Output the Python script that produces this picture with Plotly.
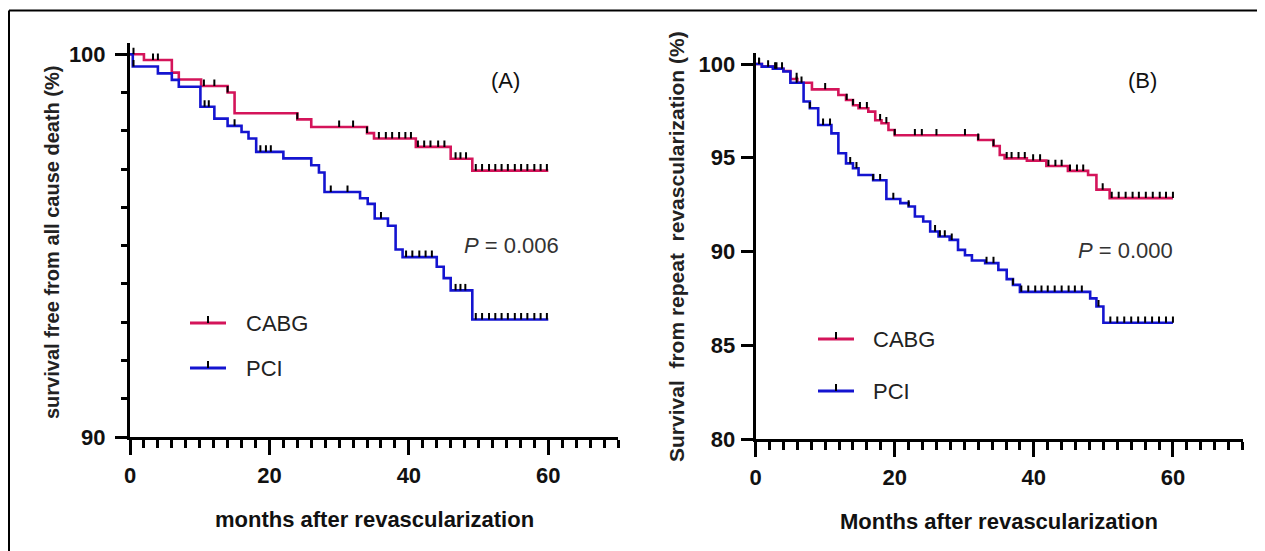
import numpy as np
import plotly.graph_objects as go

# ---------------- data ----------------
# Panel A: survival free from all cause death (%)
a_cabg_t = [0, 2, 6, 7, 10.2, 14, 15, 24, 26, 34, 35, 41, 46, 49.1, 60]
a_cabg_s = [100, 99.85, 99.52, 99.34, 99.17, 99.0, 98.46, 98.3, 98.1, 97.94, 97.8, 97.58, 97.27, 96.96, 96.96]
a_cabg_cens = [0.5, 3.3, 4.0, 10.6, 12.1, 14.0, 24.0, 30.0, 32.0, 34.0, 35.7, 36.7, 37.6, 38.6, 39.5, 40.3,
               41.3, 42.2, 43.1, 44.2, 45.1, 46.7, 47.4, 48.2,
               49.6, 50.5, 51.5, 52.4, 53.3, 54.2, 55.2, 56.1, 57.0, 58.0, 58.9, 59.8]

a_pci_t = [0, 0.4, 4, 6, 7, 10.1, 12.1, 14, 16, 17, 18.1, 22, 26, 27.1, 27.9, 33, 34.1, 35.1, 37, 38.1, 39.1,
           44, 45, 46, 49.1, 60]
a_pci_s = [100, 99.68, 99.5, 99.33, 99.15, 98.63, 98.32, 98.13, 97.97, 97.8, 97.45, 97.28, 97.1, 96.91, 96.4,
           96.24, 96.09, 95.71, 95.52, 94.9, 94.7, 94.45, 94.15, 93.83, 93.07, 93.07]
a_pci_cens = [0.5, 10.7, 11.3, 15.0, 18.7, 19.5, 20.2, 28.8, 31.2, 36.0, 39.6, 40.5, 41.5, 42.4, 43.3,
              46.7, 47.4, 48.1,
              49.6, 50.5, 51.5, 52.4, 53.3, 54.2, 55.2, 56.1, 57.0, 58.0, 58.9, 59.8]

# Panel B: survival from repeat revascularization (%)
b_cabg_t = [0, 0.9, 2.5, 4, 5, 6, 8.1, 11.9, 13, 14, 14.8, 16.2, 17.2, 18.1, 19.1, 20, 32, 34.2, 35.1, 35.8,
            39, 41.8, 44.9, 47.8, 49, 50.9, 60]
b_cabg_s = [100, 99.86, 99.75, 99.63, 99.2, 99.0, 98.65, 98.35, 98.08, 97.8, 97.64, 97.46, 97.0, 96.84, 96.48,
            96.2, 95.95, 95.63, 95.15, 94.97, 94.85, 94.56, 94.3, 94.08, 93.3, 92.85, 92.85]
b_cabg_cens = [0.5, 1.8, 2.8, 3.8, 5.9, 6.6, 10.0, 13.1, 14.0, 15.0, 16.0, 17.9, 18.8, 20.0, 22.9, 23.9, 26.0,
               30.1, 32.0, 34.2, 36.1, 36.8, 37.8, 38.7, 39.9, 40.9, 42.1, 43.1, 44.0, 45.2, 46.2, 47.1, 49.9,
               51.2, 52.2, 53.2, 54.2, 55.1, 56.1, 57.1, 58.1, 59.0, 60.0]

b_pci_t = [0, 0.9, 2.5, 4, 5, 6.9, 7.8, 9, 10.9, 11.9, 13, 14, 14.8, 16.9, 18.8, 20.8, 22, 22.9, 24.1, 25.1,
           26.3, 27.9, 29.1, 30.1, 31.1, 33, 34.9, 36.1, 37, 38, 48.1, 49, 50, 60]
b_pci_s = [100, 99.86, 99.75, 99.6, 99.0, 98.0, 97.64, 96.75, 96.3, 95.24, 94.7, 94.44, 94.08, 93.8, 92.8,
           92.58, 92.4, 91.87, 91.6, 91.07, 90.8, 90.62, 90.09, 89.8, 89.52, 89.38, 89.02, 88.53, 88.22, 87.85,
           87.5, 87.07, 86.2, 86.2]
b_pci_cens = [0.5, 3.0, 5.9, 7.8, 9.7, 10.7, 13.6, 14.5, 16.9, 17.9, 19.8, 22.0, 25.8, 26.5, 27.2, 28.2, 33.2,
              34.2, 37.0, 38.2, 39.2, 40.2, 41.1, 42.0, 43.0, 44.0, 45.0, 45.9, 46.9, 49.3,
              51.0, 52.0, 53.0, 54.0, 55.0, 56.0, 57.0, 58.0, 59.0, 60.0]

groups = ["CABG", "PCI"]
p_texts = ["0.006", "0.000"]
panel_labels = ["(A)", "(B)"]
x_titles = ["months after revascularization", "Months after revascularization"]
y_titles = ["survival free from all cause death (%)", "Survival  from repeat  revascularization (%)"]

# ---------------- style ----------------
RED = "#d4145a"
BLUE = "#1414d0"
SANS = "Liberation Sans, Arial, sans-serif"
W, H = 1265, 551
OX, OY = 8, 8  # page body margin offset


def fx(x):
    return (x - OX) / W


def fy(y):
    return 1 - (y - OY) / H


def step_value(times, surv, t):
    idx = np.searchsorted(np.array(times), t, side="right") - 1
    return float(np.array(surv)[max(idx, 0)])


fig = go.Figure()

panels = [
    dict(xa="x", ya="y", curves=[(a_cabg_t, a_cabg_s, a_cabg_cens, RED), (a_pci_t, a_pci_s, a_pci_cens, BLUE)],
         tick_h=0.17),
    dict(xa="x2", ya="y2", curves=[(b_cabg_t, b_cabg_s, b_cabg_cens, RED), (b_pci_t, b_pci_s, b_pci_cens, BLUE)],
         tick_h=0.34),
]

for p in panels:
    for (t, s, c, col), name in zip(p["curves"], groups):
        fig.add_trace(go.Scatter(x=t, y=s, mode="lines", line=dict(color=col, width=2.6, shape="hv"),
                                 name=name, xaxis=p["xa"], yaxis=p["ya"], hoverinfo="skip"))
    for (t, s, c, col), name in zip(p["curves"], groups):
        cy = [step_value(t, s, ci) for ci in c]
        fig.add_trace(go.Scatter(x=c, y=cy, mode="markers", marker=dict(size=1, color="rgba(0,0,0,0)"),
                                 error_y=dict(type="data", symmetric=False, array=[p["tick_h"]] * len(c),
                                              arrayminus=[0] * len(c), color="black", thickness=2, width=0),
                                 xaxis=p["xa"], yaxis=p["ya"], showlegend=False, hoverinfo="skip"))

tickfont = dict(family=SANS, size=22, color="#111", weight="bold")

xcommon = dict(range=[0, 70], showline=True, linewidth=3, linecolor="black", showgrid=False, zeroline=False,
               automargin=False,
               ticks="outside", tickmode="linear", tick0=0, dtick=20, ticklen=15, tickwidth=3, tickcolor="black",
               tickfont=tickfont, ticklabelstandoff=2,
               minor=dict(dtick=2, tick0=0, ticks="outside", ticklen=8, tickwidth=3, tickcolor="black"))

fig.update_layout(
    width=W, height=H, margin=dict(l=0, r=0, t=0, b=0, autoexpand=False),
    paper_bgcolor="white", plot_bgcolor="white", showlegend=False,
    xaxis=dict(domain=[fx(130), fx(618)], anchor="y", **xcommon),
    xaxis2=dict(domain=[fx(755.6), fx(1242.5)], anchor="y2", **xcommon),
    yaxis=dict(domain=[fy(437), fy(42.8)], range=[90, 100.3], anchor="x", showline=True, linewidth=3,
               linecolor="black", showgrid=False, zeroline=False, automargin=False, ticks="outside",
               tickmode="linear", tick0=90,
               dtick=10, ticklen=12, tickwidth=3, tickcolor="black", tickfont=tickfont, ticklabelstandoff=5,
               minor=dict(dtick=1, tick0=90, ticks="outside", ticklen=6, tickwidth=3, tickcolor="black")),
    yaxis2=dict(domain=[fy(439), fy(52.8)], range=[80, 100.6], anchor="x2", showline=True, linewidth=3,
                linecolor="black", showgrid=False, zeroline=False, automargin=False, ticks="outside",
                tickmode="linear", tick0=80,
                dtick=5, ticklen=12, tickwidth=3, tickcolor="black", tickfont=tickfont, ticklabelstandoff=1),
)

ann = []
shapes = []
# outer frame (top and left edges)
shapes.append(dict(type="line", xref="paper", yref="paper", x0=fx(9), x1=1, y0=fy(10.5), y1=fy(10.5),
                   line=dict(color="black", width=2)))
shapes.append(dict(type="line", xref="paper", yref="paper", x0=fx(9), x1=fx(9), y0=0, y1=fy(10.5),
                   line=dict(color="black", width=2)))


def text(t, x, y, size, bold=False, angle=0, color="#111", xanchor="center"):
    ann.append(dict(text=t, x=fx(x), y=fy(y), xref="paper", yref="paper", showarrow=False,
                    xanchor=xanchor, yanchor="middle", textangle=angle,
                    font=dict(family=SANS, size=size, color=color, weight="bold" if bold else "normal")))


# axis titles
text(x_titles[0], 374, 519, 22, bold=True)
text(x_titles[1], 999, 521, 22, bold=True)
text(y_titles[0], 52, 243, 20, bold=True, angle=-90, color="#222")
text(y_titles[1], 677, 247, 21, bold=True, angle=-90, color="#222")

# panel labels and p-values
text(panel_labels[0], 505, 80, 22)
text(panel_labels[1], 1142, 80, 22)
text("<i>P</i> = " + p_texts[0], 512, 245, 22, color="#333")
text("<i>P</i> = " + p_texts[1], 1125, 250, 22, color="#333")

# legends
legend_pos = [
    dict(x0=190, x1=226, ys=[323, 368], tx=244),
    dict(x0=818, x1=854, ys=[339, 391], tx=871),
]
for lp in legend_pos:
    for yy, name, col in zip(lp["ys"], groups, [RED, BLUE]):
        shapes.append(dict(type="line", xref="paper", yref="paper", x0=fx(lp["x0"]), x1=fx(lp["x1"]),
                           y0=fy(yy), y1=fy(yy), line=dict(color=col, width=3)))
        xm = (lp["x0"] + lp["x1"]) / 2
        shapes.append(dict(type="line", xref="paper", yref="paper", x0=fx(xm), x1=fx(xm),
                           y0=fy(yy), y1=fy(yy - 7), line=dict(color="black", width=2)))
        text(name, lp["tx"], yy, 22, color="#222", xanchor="left")

fig.update_layout(annotations=ann, shapes=shapes)
fig.write_html("out.html")
